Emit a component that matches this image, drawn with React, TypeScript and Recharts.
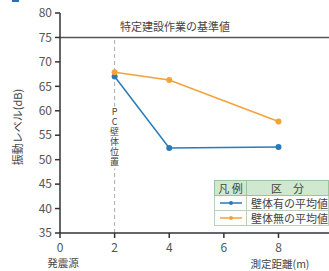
import {
  LineChart,
  Line,
  XAxis,
  YAxis,
  ReferenceLine,
} from "recharts";

const distances = [2, 4, 8];
const withWall = [67.0, 52.4, 52.6];
const withoutWall = [67.9, 66.3, 57.8];
const seriesNames = ["壁体有の平均値", "壁体無の平均値"];
const seriesColors = ["#2a7ab9", "#f4a23a"];
const yTicks = [35, 40, 45, 50, 55, 60, 65, 70, 75, 80];
const xTicks = [0, 2, 4, 6, 8];
const standardLevel = 75;
const wallPosition = 2;
const wallText = "PC壁体位置";

const data = distances.map((d, i) => ({
  d,
  a: withWall[i],
  b: withoutWall[i],
}));

const font = '"Noto Sans CJK JP", "Noto Sans", sans-serif';

export default function App() {
  return (
    <div
      style={{
        position: "absolute",
        left: 0,
        top: 0,
        width: 329,
        height: 271,
        overflow: "hidden",
        fontFamily: font,
        background: "#fff",
      }}
    >
      <div
        style={{
          position: "absolute",
          left: 12,
          top: -5,
          width: 7,
          height: 7,
          background: "#2a6fb5",
        }}
      />
      <LineChart
        width={329}
        height={271}
        data={data}
        margin={{ top: 13, right: 0, bottom: 0, left: 0 }}
        style={{ fontFamily: font }}
      >
        <XAxis
          dataKey="d"
          type="number"
          domain={[0, 9.85]}
          ticks={xTicks}
          height={38}
          tickSize={5}
          tickMargin={5}
          stroke="#333"
          strokeWidth={1.5}
          tick={{ fill: "#555", fontSize: 12 }}
          allowDataOverflow
        />
        <YAxis
          type="number"
          domain={[35, 80]}
          ticks={yTicks}
          width={60}
          tickSize={5}
          tickMargin={3}
          stroke="#333"
          strokeWidth={1.5}
          tick={{ fill: "#555", fontSize: 12 }}
          label={{
            value: "振動レベル(dB)",
            angle: -90,
            position: "insideLeft",
            offset: 18,
            dy: 4,
            style: { fill: "#444", fontSize: 11, textAnchor: "middle" },
          }}
        />
        <ReferenceLine
          y={standardLevel}
          stroke="#555"
          strokeWidth={1.5}
          label={(props: any) => (
            <text
              x={props.viewBox.x + 60}
              y={props.viewBox.y - 6}
              fill="#444"
              fontSize={11}
            >
              特定建設作業の基準値
            </text>
          )}
        />
        <ReferenceLine
          segment={[
            { x: wallPosition, y: 35 },
            { x: wallPosition, y: standardLevel },
          ]}
          stroke="#aaa"
          strokeDasharray="4 3"
          label={(props: any) => {
            const x = props.viewBox.x;
            const y0 = props.viewBox.y;
            return (
              <g>
                <rect x={x - 5} y={y0 + 69} width={10} height={62} fill="#fff" />
                <text
                  x={x}
                  y={y0 + 70}
                  fill="#444"
                  fontSize={9}
                  letterSpacing={1}
                  style={{ writingMode: "vertical-rl", textOrientation: "upright" }}
                >
                  {wallText}
                </text>
              </g>
            );
          }}
        />
        <Line
          dataKey="a"
          name={seriesNames[0]}
          stroke={seriesColors[0]}
          strokeWidth={1.5}
          dot={{ r: 3, fill: seriesColors[0], stroke: seriesColors[0], strokeWidth: 0 }}
          isAnimationActive={false}
        />
        <Line
          dataKey="b"
          name={seriesNames[1]}
          stroke={seriesColors[1]}
          strokeWidth={1.5}
          dot={{ r: 3, fill: seriesColors[1], stroke: seriesColors[1], strokeWidth: 0 }}
          isAnimationActive={false}
        />
      </LineChart>
      <div
        style={{
          position: "absolute",
          left: 63,
          top: 263,
          transform: "translate(-50%, -50%)",
          fontSize: 10.5,
          lineHeight: "12px",
          color: "#444",
          whiteSpace: "nowrap",
        }}
      >
        発震源
      </div>
      <div
        style={{
          position: "absolute",
          left: 280,
          top: 264,
          transform: "translate(-50%, -50%)",
          fontSize: 10.5,
          lineHeight: "12px",
          color: "#444",
          whiteSpace: "nowrap",
        }}
      >
        測定距離(m)
      </div>
      <table
        style={{
          position: "absolute",
          left: 214,
          top: 180,
          borderCollapse: "collapse",
          fontSize: 11,
          color: "#444",
          background: "#fff",
          lineHeight: "13px",
        }}
      >
        <tbody>
          <tr style={{ background: "#cfe8cf" }}>
            <td style={{ border: "1px solid #9cc49c", width: 38, height: 14, textAlign: "center", padding: 0 }}>
              凡 例
            </td>
            <td style={{ border: "1px solid #9cc49c", width: 80, height: 14, textAlign: "center", padding: 0 }}>
              区　分
            </td>
          </tr>
          {seriesNames.map((n, i) => (
            <tr key={n}>
              <td style={{ border: "1px solid #b9d3b9", height: 14, padding: 0, textAlign: "center" }}>
                <svg width={24} height={8} style={{ display: "block", margin: "0 auto" }}>
                  <line x1={1} y1={4} x2={23} y2={4} stroke={seriesColors[i]} strokeWidth={1.5} />
                  <circle cx={12} cy={4} r={2} fill={seriesColors[i]} />
                </svg>
              </td>
              <td style={{ border: "1px solid #b9d3b9", height: 14, padding: "0 0 0 4px", whiteSpace: "nowrap" }}>
                {n}
              </td>
            </tr>
          ))}
        </tbody>
      </table>
    </div>
  );
}
